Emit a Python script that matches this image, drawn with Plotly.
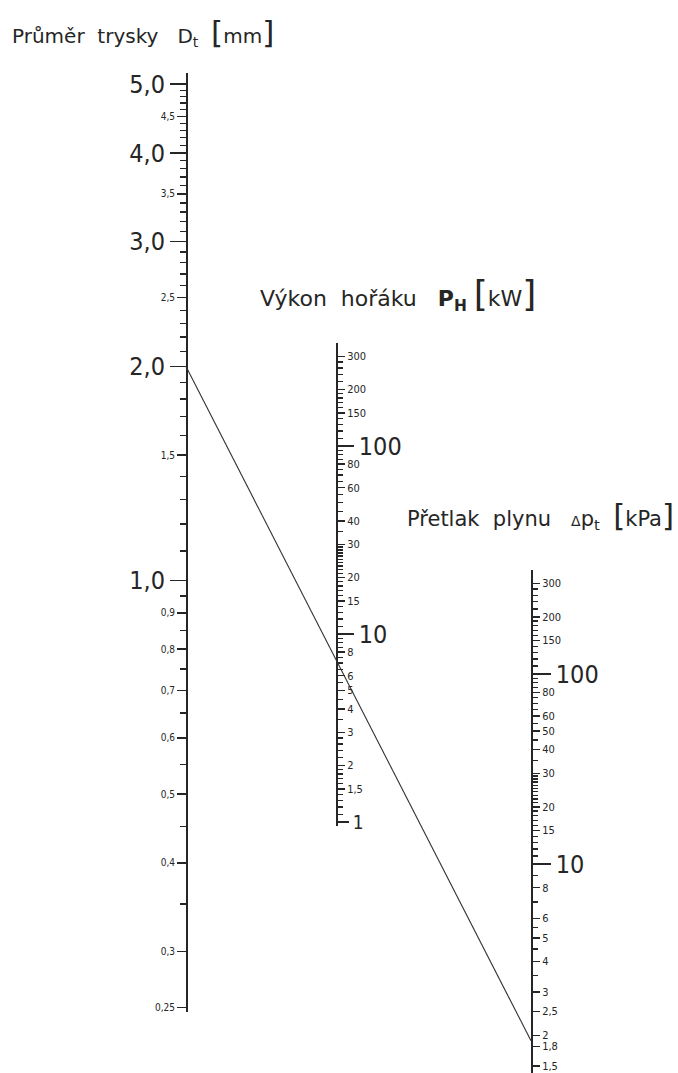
import math
import plotly.graph_objects as go

W, H = 678, 1073

# ---------------- data ----------------
# Průměr trysky D [mm]
d_big_vals = [5.0, 4.0, 3.0, 2.0, 1.0]
d_big_text = ["5,0", "4,0", "3,0", "2,0", "1,0"]
d_small_vals = [4.5, 3.5, 2.5, 1.5, 0.9, 0.8, 0.7, 0.6, 0.5, 0.4, 0.3, 0.25]
d_small_text = ["4,5", "3,5", "2,5", "1,5", "0,9", "0,8", "0,7", "0,6", "0,5", "0,4", "0,3", "0,25"]
d_minor_vals = [4.9, 4.8, 4.7, 4.6, 4.4, 4.3, 4.2, 4.1,
                3.9, 3.8, 3.7, 3.6, 3.4, 3.3, 3.2, 3.1,
                2.9, 2.8, 2.7, 2.6, 2.4, 2.3, 2.2, 2.1,
                1.9, 1.8, 1.7, 1.6, 1.4, 1.3, 1.2, 1.1,
                0.95, 0.85, 0.75, 0.65, 0.55, 0.45, 0.35]

# Výkon hořáku P_H [kW]
p_big_vals = [100, 10]
p_big_text = ["100", "10"]
p_one_vals = [1]
p_one_text = ["1"]
p_small_vals = [300, 200, 150, 80, 60, 40, 30, 20, 15, 8, 6, 5, 4, 3, 2, 1.5]
p_small_text = ["300", "200", "150", "80", "60", "40", "30", "20", "15",
                "8", "6", "5", "4", "3", "2", "1,5"]
p_minor_vals = [280, 260, 240, 220, 190, 180, 170, 160, 140, 130, 120, 110,
                95, 90, 85, 75, 70, 65, 55, 50, 45, 35,
                29, 28, 27, 26, 25, 24, 23, 22, 21, 19, 18, 17, 16, 14, 13, 12, 11,
                9.5, 9, 8.5, 7.5, 7, 6.5, 5.5, 4.5, 3.5,
                2.8, 2.6, 2.4, 2.2, 1.9, 1.8, 1.7, 1.6, 1.4, 1.3, 1.2, 1.1]

# Přetlak plynu Δp [kPa] – upper part (10 … 300)
dpu_big_vals = [100]
dpu_big_text = ["100"]
dpu_small_vals = [300, 200, 150, 80, 60, 50, 40, 30, 20, 15]
dpu_small_text = ["300", "200", "150", "80", "60", "50", "40", "30", "20", "15"]
dpu_minor_vals = [280, 260, 240, 220, 190, 180, 170, 160, 140, 130, 120, 110,
                  95, 90, 85, 75, 70, 65, 55, 45, 35,
                  29, 28, 27, 26, 25, 24, 23, 22, 21, 19, 18, 17, 16, 14, 13, 12, 11]
# Přetlak plynu Δp [kPa] – lower part (1,5 … 10)
dpl_big_vals = [10]
dpl_big_text = ["10"]
dpl_small_vals = [8, 6, 5, 4, 3, 2.5, 2, 1.8, 1.5]
dpl_small_text = ["8", "6", "5", "4", "3", "2,5", "2", "1,8", "1,5"]
dpl_minor_vals = [9, 7, 5.5, 4.5, 3.5]

# example reading line
line_D = 2.0
line_dp = 1.9

# ---------------- layout geometry ----------------
def geom(top_px, bottom_px, ref_val, ref_px, mod):
    dom = [1 - bottom_px / H, 1 - top_px / H]
    lr = math.log10(ref_val)
    rng = [lr - (bottom_px - ref_px) / mod, lr + (ref_px - top_px) / mod]
    return dom, rng

X_D, X_P, X_DP = 186 / W, 336 / W, 531 / W
dom_D, rng_D = geom(73, 1012, 5.0, 84, 710)
dom_P, rng_P = geom(343, 826, 1.0, 822, 188)
dom_U, rng_U = geom(570, 864, 10.0, 864, 190)
dom_L, rng_L = geom(864, 1073, 10.0, 864, 245)

def to_paper(v, dom, rng):
    return dom[0] + (math.log10(v) - rng[0]) / (rng[1] - rng[0]) * (dom[1] - dom[0])

INK = "#262626"
NARROW = "Liberation Sans Narrow, DejaVu Sans Condensed, Arial Narrow, sans-serif"
TITLE = "DejaVu Sans, sans-serif"

def ax(dom, rng, pos, side, vals, text, tlen, fsize, minor=None, overlay=None, line=True):
    d = dict(type="log", range=rng, anchor="free", position=pos, side=side,
             automargin=False,
             showline=line, linecolor=INK, linewidth=1.8,
             ticks="outside", tickmode="array", tickvals=vals, ticktext=text,
             ticklen=tlen, tickwidth=1.5, tickcolor=INK,
             tickfont=dict(family=NARROW, size=fsize, color=INK),
             showgrid=False, zeroline=False, fixedrange=True)
    if overlay:
        d["overlaying"] = overlay
    else:
        d["domain"] = dom
    if minor is not None:
        d["minor"] = dict(tickmode="array", tickvals=minor, ticks="outside",
                          ticklen=6, tickwidth=1.3, tickcolor=INK, showgrid=False)
    return d

fig = go.Figure()

# nomogram reading line
fig.add_trace(go.Scatter(
    x=[X_D, X_DP],
    y=[to_paper(line_D, dom_D, rng_D), to_paper(line_dp, dom_L, rng_L)],
    xaxis="x", yaxis="y10", mode="lines",
    line=dict(color="#333333", width=1.1), showlegend=False, hoverinfo="skip"))

for k in range(1, 10):
    yname = "y" if k == 1 else f"y{k}"
    fig.add_trace(go.Scatter(x=[None], y=[None], xaxis="x", yaxis=yname,
                             showlegend=False, hoverinfo="skip"))

fig.update_layout(
    width=W, height=H,
    margin=dict(l=0, r=0, t=0, b=0, pad=0, autoexpand=False),
    paper_bgcolor="white", plot_bgcolor="rgba(0,0,0,0)",
    showlegend=False,
    xaxis=dict(range=[0, 1], domain=[0, 1], visible=False, fixedrange=True, automargin=False),
    yaxis=ax(dom_D, rng_D, X_D, "left", d_big_vals, d_big_text, 16, 25),
    yaxis2=ax(dom_D, rng_D, X_D, "left", d_small_vals, d_small_text, 9, 10,
              minor=d_minor_vals, overlay="y", line=False),
    yaxis3=ax(dom_P, rng_P, X_P, "right", p_big_vals, p_big_text, 16, 25),
    yaxis4=ax(dom_P, rng_P, X_P, "right", p_small_vals, p_small_text, 8, 11,
              minor=p_minor_vals, overlay="y3", line=False),
    yaxis5=ax(dom_P, rng_P, X_P, "right", p_one_vals, p_one_text, 12, 19,
              overlay="y3", line=False),
    yaxis6=ax(dom_U, rng_U, X_DP, "right", dpu_big_vals, dpu_big_text, 18, 25),
    yaxis7=ax(dom_U, rng_U, X_DP, "right", dpu_small_vals, dpu_small_text, 8, 11,
              minor=dpu_minor_vals, overlay="y6", line=False),
    yaxis8=ax(dom_L, rng_L, X_DP, "right", dpl_big_vals, dpl_big_text, 18, 25),
    yaxis9=ax(dom_L, rng_L, X_DP, "right", dpl_small_vals, dpl_small_text, 8, 11,
              minor=dpl_minor_vals, overlay="y8", line=False),
    yaxis10=dict(range=[0, 1], domain=[0, 1], visible=False, fixedrange=True, automargin=False),
)

BR = "<span style='font-size:{s}px'>{c}</span>"
titles = [
    ("Průměr  trysky   D<sub>t</sub>  " + BR.format(s=31, c="[") + "mm" + BR.format(s=31, c="]"),
     10, 32, 20),
    ("Výkon  hořáku   <b>P<sub>H</sub></b> " + BR.format(s=36, c="[") + "kW" + BR.format(s=36, c="]"),
     258, 294, 22),
    ("Přetlak  plynu   <span style='font-size:14px'>Δ</span>p<sub>t</sub>  "
     + BR.format(s=31, c="[") + "kPa" + BR.format(s=31, c="]"),
     405, 515, 21),
]
for txt, xp, yp, fs in titles:
    fig.add_annotation(text=txt, xref="paper", yref="paper", x=xp / W, y=1 - yp / H,
                       xanchor="left", yanchor="middle", showarrow=False,
                       font=dict(family=TITLE, size=fs, color=INK))

fig.write_html("out.html",
               config={"displayModeBar": False, "staticPlot": True},
               post_script="document.body.style.margin='0px';document.body.style.overflow='hidden';")
